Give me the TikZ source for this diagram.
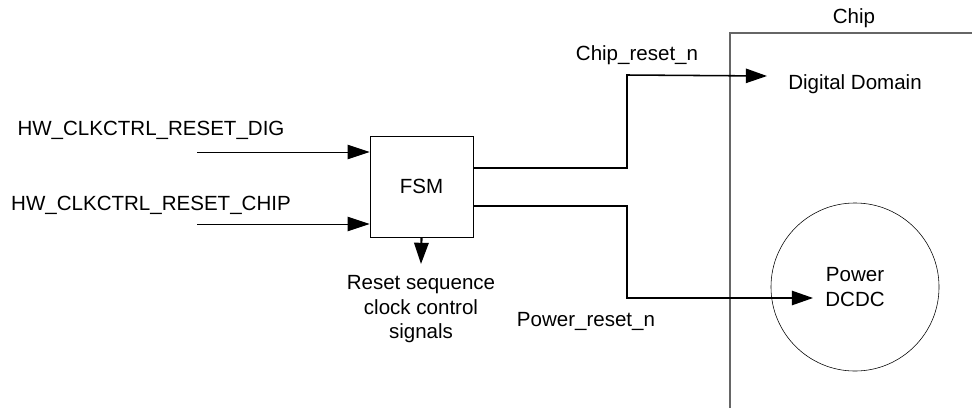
\documentclass[tikz,border=0pt]{standalone}
\usepackage{fontspec}
\setmainfont{Liberation Sans}
\usetikzlibrary{arrows.meta}

\begin{document}
\begin{tikzpicture}[
    x=0.025cm,
    y=-0.025cm,
    every node/.style={
        font=\fontsize{14.6}{17.5}\selectfont,
        align=center
    },
    fsmbox/.style={
        draw,
        thin,
        minimum width=2.575cm,
        minimum height=2.525cm
    },
    dcdc/.style={
        draw,
        thin,
        circle,
        minimum size=4.2cm
    },
    inwire/.style={
        -{Triangle[length=5.5mm,width=3.6mm]},
        line width=0.7pt
    },
    outwire/.style={
        -{Triangle[length=5.3mm,width=3.6mm]},
        line width=1.1pt
    },
    sigwire/.style={
        -{Triangle[length=5.3mm,width=3.6mm]},
        line width=1.5pt
    },
    chipline/.style={
        draw=black!60,
        line width=0.8pt
    }
]

\useasboundingbox (0,0) rectangle (972,408);

\node[fsmbox] (fsm) at (421.5,186.5) {FSM};

\node (diglabel) at (151,130) {HW\_CLKCTRL\_RESET\_DIG};
\node (chiplabel) at (151,205) {HW\_CLKCTRL\_RESET\_CHIP};

\coordinate (digin) at (197,152);
\coordinate (chipin) at (197,224);

\node[inner sep=8pt, anchor=north] (rstsig) at (421,264) {
    Reset sequence\\
    clock control\\
    signals
};

\node (chipname) at (854,18) {Chip};
\node (digdom) at (855,84) {Digital Domain};
\node[dcdc] (power) at (855,287) {Power\\DCDC};

\node (chiprst) at (637,55) {Chip\_reset\_n};
\node (pwrrst) at (586,321) {Power\_reset\_n};

\coordinate (chipend) at (767,76);
\coordinate (pwrend) at (813,298);

% chip boundary
\draw[chipline] (730,408) -- (730,33) -- (972,33);

% inputs
\draw[inwire] (digin) -- (fsm.west |- digin);
\draw[inwire] (chipin) -- (fsm.west |- chipin);

% outputs
\draw[sigwire] (fsm.south) -- (rstsig.north);

\draw[outwire]
    (fsm.east |- 0,168)
    -| (627,75)
    -- (chipend);

\draw[outwire]
    (fsm.east |- 0,206)
    -| (627,298)
    -- (pwrend);

\end{tikzpicture}
\end{document}
